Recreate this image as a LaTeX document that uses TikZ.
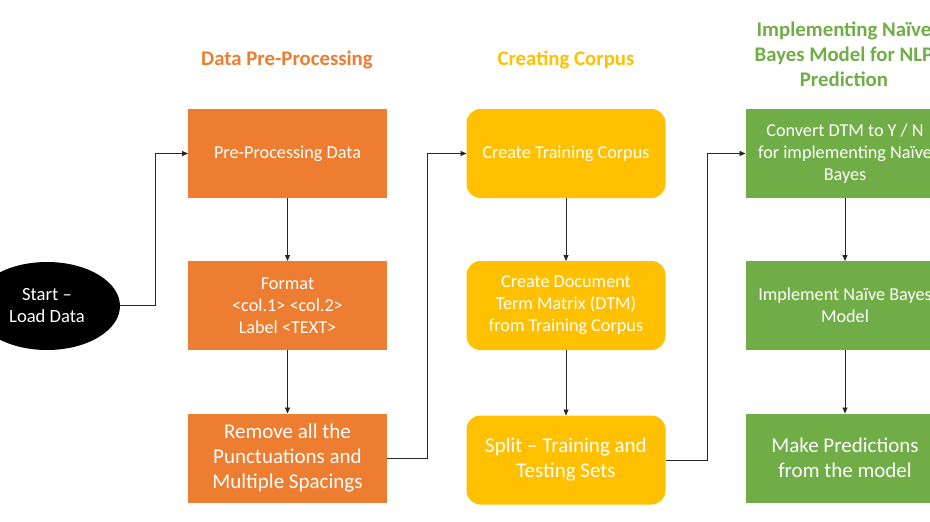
\documentclass[tikz,border=0pt]{standalone}
\usepackage{fontspec}
\setmainfont{Carlito}
\usetikzlibrary{shapes.geometric,arrows.meta}
\definecolor{ora}{HTML}{ED7D31}
\definecolor{yel}{HTML}{FFC000}
\definecolor{grn}{HTML}{70AD47}
\tikzset{
  box/.style={minimum width=199pt,minimum height=89pt,inner sep=2pt,outer sep=0pt,align=center,text=white},
  obox/.style={box,fill=ora},
  ybox/.style={box,fill=yel,rounded corners=14pt},
  gbox/.style={box,fill=grn},
  small/.style={font=\fontsize{18.2}{22}\selectfont},
  big/.style={font=\fontsize{21}{25}\selectfont},
  head/.style={font=\bfseries\fontsize{20.8}{25}\selectfont,align=center},
  arr/.style={draw=black!85,line width=0.8pt,-{Triangle[length=6pt,width=5pt]}},
}
\begin{document}
\begin{tikzpicture}[x=1pt,y=-1pt]
\useasboundingbox (0,0) rectangle (930,522);
% start
\node[ellipse,fill=black,text=white,minimum width=146pt,minimum height=88pt,inner sep=0pt,align=center,font=\fontsize{18.6}{22}\selectfont] (start) at (47,306) {Start --\\Load Data};
% headers
\node[head,text=ora] (h1) at (287,60) {Data Pre-Processing};
\node[head,text=yel] (h2) at (566,60) {Creating Corpus};
\node[head,text=grn] (h3) at (844,54) {Implementing Naïve\\Bayes Model for NLP\\Prediction};
% orange
\node[obox,small] (o1) at (287.5,153.5) {Pre-Processing Data};
\node[obox,small] (o2) at (287.5,305.5) {Format\\<col.1> <col.2>\\Label <TEXT>};
\node[obox,big] (o3) at (287.5,458) {Remove all the\\Punctuations and\\Multiple Spacings};
% yellow
\node[ybox,small] (y1) at (566,153.5) {Create Training Corpus};
\node[ybox,small] (y2) at (566,305.5) {Create Document\\Term Matrix (DTM)\\from Training Corpus};
\node[ybox,big] (y3) at (566,460) {Split -- Training and\\Testing Sets};
% green
\node[gbox,small] (g1) at (845,153.5) {Convert DTM to Y / N\\for implementing Naïve\\Bayes};
\node[gbox,small] (g2) at (845,305.5) {Implement Naïve Bayes\\Model};
\node[gbox,big] (g3) at (845,458) {Make Predictions\\from the model};
% connectors
\coordinate (j1) at (155,305);
\coordinate (j2) at (427,458);
\coordinate (j3) at (707,460);
\draw[arr] (start.east |- j1) -- (j1) |- (o1.west);
\draw[arr] (o1) -- (o2);
\draw[arr] (o2) -- (o3);
\draw[arr] (o3.east |- j2) -- (j2) |- (y1.west);
\draw[arr] (y1) -- (y2);
\draw[arr] (y2) -- (y3);
\draw[arr] (y3.east |- j3) -- (j3) |- (g1.west);
\draw[arr] (g1) -- (g2);
\draw[arr] (g2) -- (g3);
\end{tikzpicture}
\end{document}
